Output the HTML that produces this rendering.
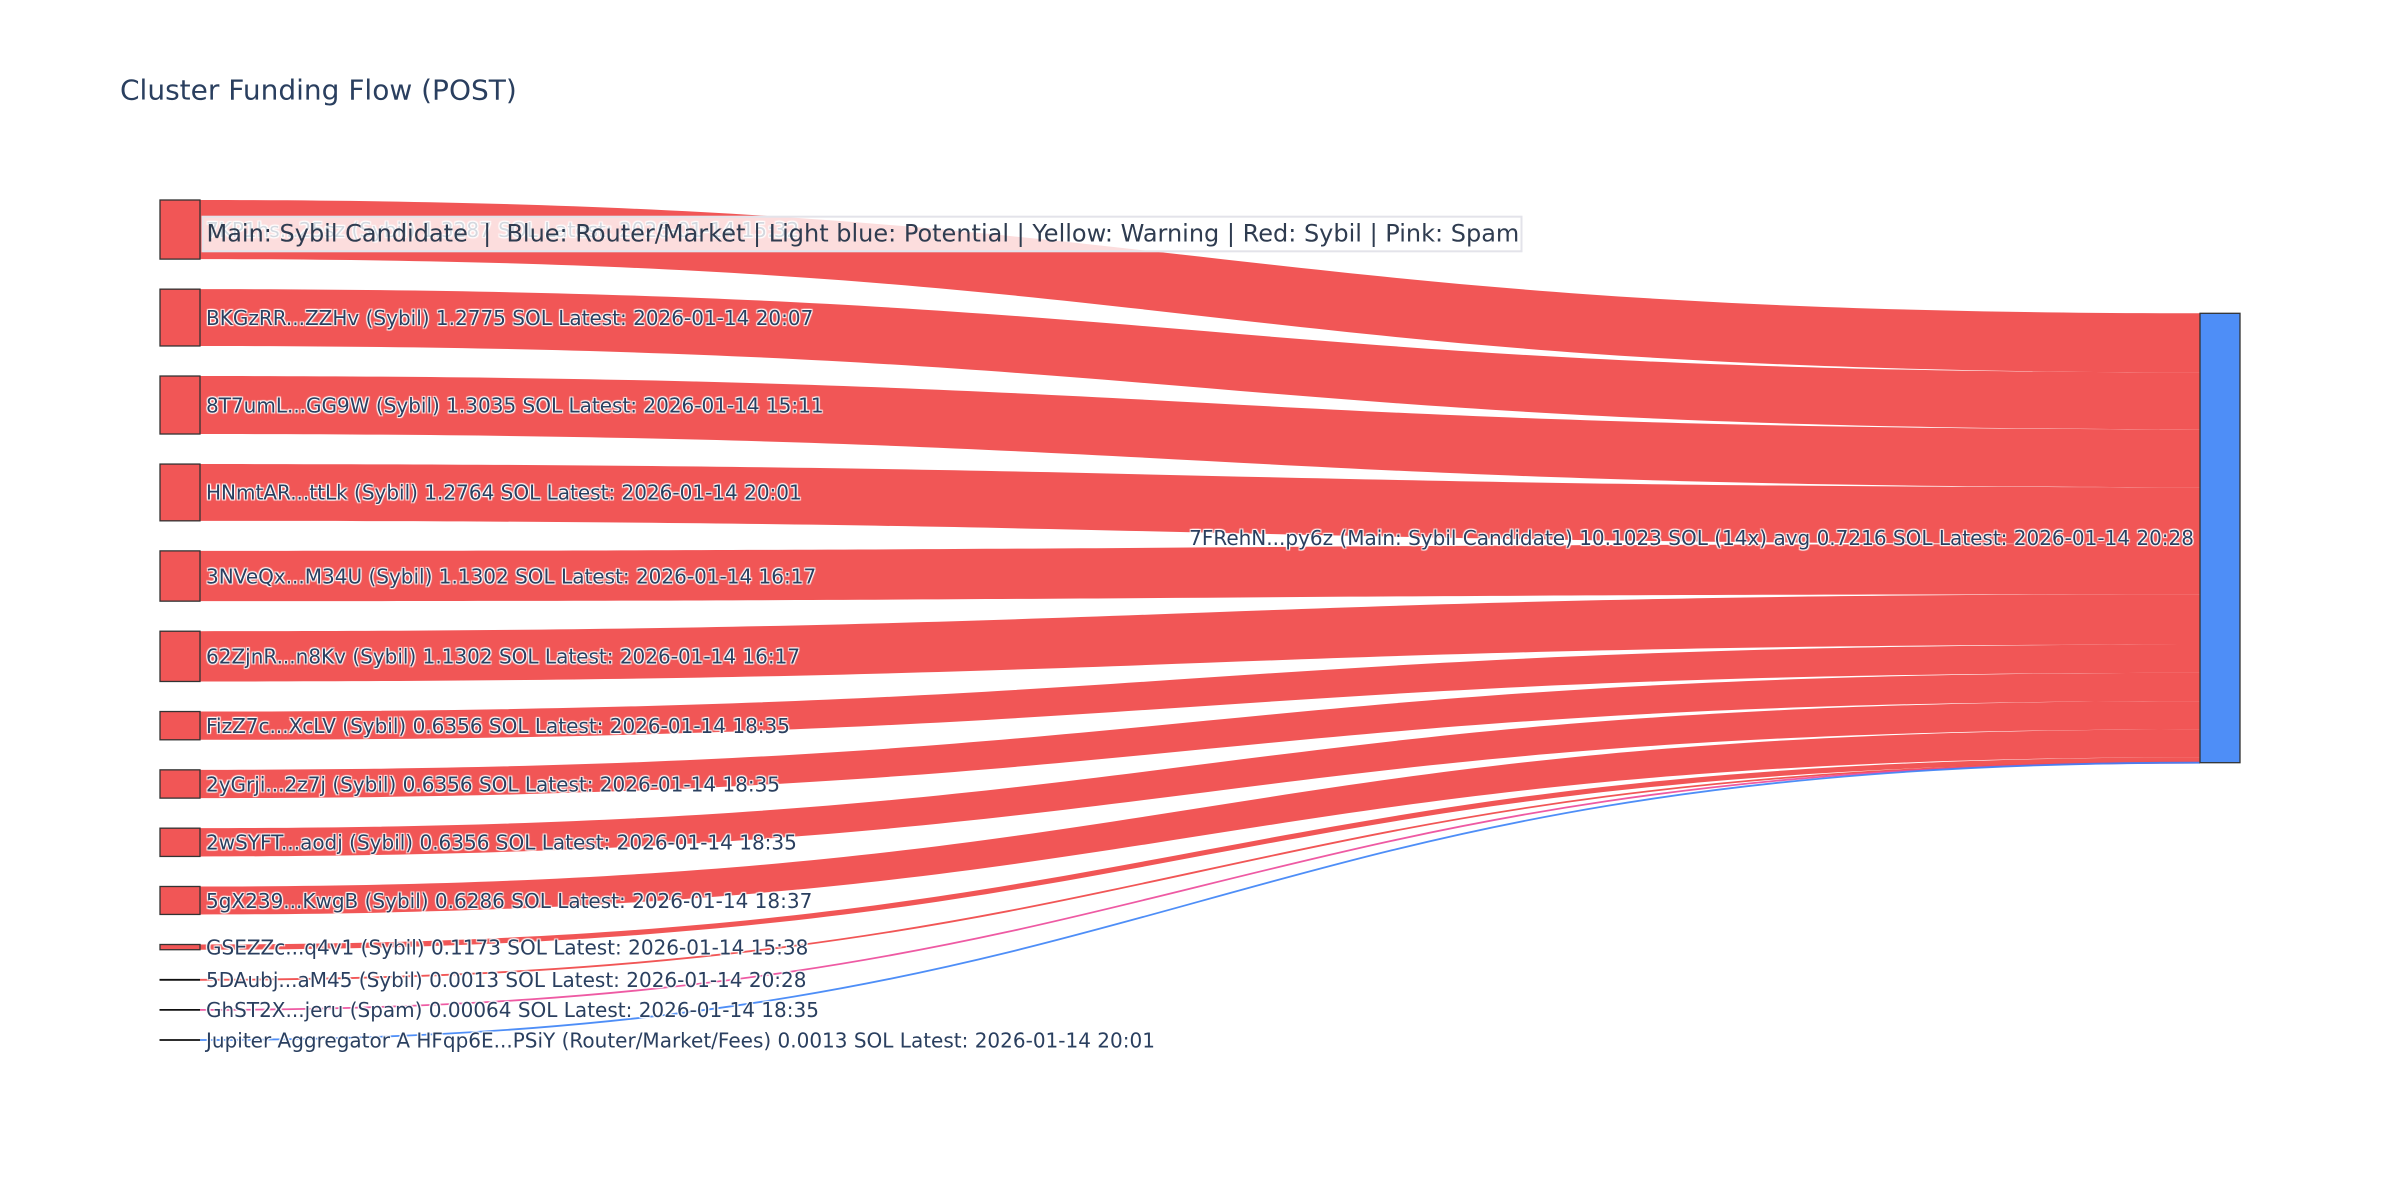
<!DOCTYPE html>
<html>
<head>
<meta charset="utf-8">
<style>
html,body{margin:0;padding:0;background:#fff;}
body{width:2400px;height:1200px;overflow:hidden;}
svg{display:block;}
.lbl{font-family:"DejaVu Sans","Liberation Sans",sans-serif;font-size:20px;fill:#2a3f5f;
 text-shadow:1px 1px 1px #fff,-1px -1px 1px #fff,1px -1px 1px #fff,-1px 1px 1px #fff;}
.title{font-family:"DejaVu Sans","Liberation Sans",sans-serif;font-size:28px;fill:#2a3f5f;}
.leg{font-family:"DejaVu Sans","Liberation Sans",sans-serif;font-size:24px;fill:#2f3c50;white-space:pre;}
</style>
</head>
<body>
<svg width="2400" height="1200" viewBox="0 0 2400 1200" xmlns="http://www.w3.org/2000/svg">
<rect x="0" y="0" width="2400" height="1200" fill="#fff"/>
<g fill="rgb(239,68,68)" fill-opacity="0.9">
<path d="M200,200 C1200,200 1200,313.3 2200,313.3 L2200,372.406 C1200,372.406 1200,259.106 200,259.106 Z"/>
<path d="M200,289.152 C1200,289.152 1200,372.406 2200,372.406 L2200,429.234 C1200,429.234 1200,345.98 200,345.98 Z"/>
<path d="M200,376.026 C1200,376.026 1200,429.234 2200,429.234 L2200,487.219 C1200,487.219 1200,434.011 200,434.011 Z"/>
<path d="M200,464.057 C1200,464.057 1200,487.219 2200,487.219 L2200,543.999 C1200,543.999 1200,520.837 200,520.837 Z"/>
<path d="M200,550.883 C1200,550.883 1200,543.999 2200,543.999 L2200,594.275 C1200,594.275 1200,601.159 200,601.159 Z"/>
<path d="M200,631.205 C1200,631.205 1200,594.275 2200,594.275 L2200,644.551 C1200,644.551 1200,681.481 200,681.481 Z"/>
<path d="M200,711.527 C1200,711.527 1200,644.551 2200,644.551 L2200,672.825 C1200,672.825 1200,739.801 200,739.801 Z"/>
<path d="M200,769.847 C1200,769.847 1200,672.825 2200,672.825 L2200,701.099 C1200,701.099 1200,798.121 200,798.121 Z"/>
<path d="M200,828.167 C1200,828.167 1200,701.099 2200,701.099 L2200,729.373 C1200,729.373 1200,856.441 200,856.441 Z"/>
<path d="M200,886.487 C1200,886.487 1200,729.373 2200,729.373 L2200,757.336 C1200,757.336 1200,914.45 200,914.45 Z"/>
<path d="M200,944.496 C1200,944.496 1200,757.336 2200,757.336 L2200,762.554 C1200,762.554 1200,949.714 200,949.714 Z"/>
</g>
<g fill="none" stroke-width="1.8">
<path d="M200,979.79 C1200,979.79 1200,762.58 2200,762.58" stroke="rgba(239,68,68,0.9)"/>
<path d="M200,1009.88 C1200,1009.88 1200,762.63 2200,762.63" stroke="rgba(236,72,153,0.9)"/>
<path d="M200,1039.97 C1200,1039.97 1200,762.67 2200,762.67" stroke="rgba(59,130,246,0.9)"/>
</g>
<g fill="rgb(239,68,68)" fill-opacity="0.9" stroke="#333" stroke-width="1.3">
<rect x="160" y="200" width="40" height="59.106"/>
<rect x="160" y="289.152" width="40" height="56.828"/>
<rect x="160" y="376.026" width="40" height="57.985"/>
<rect x="160" y="464.057" width="40" height="56.78"/>
<rect x="160" y="550.883" width="40" height="50.276"/>
<rect x="160" y="631.205" width="40" height="50.276"/>
<rect x="160" y="711.527" width="40" height="28.274"/>
<rect x="160" y="769.847" width="40" height="28.274"/>
<rect x="160" y="828.167" width="40" height="28.274"/>
<rect x="160" y="886.487" width="40" height="27.963"/>
<rect x="160" y="944.496" width="40" height="5.218"/>
</g>
<g stroke="#111" stroke-width="1.8">
<line x1="159.5" y1="979.8" x2="200" y2="979.8"/>
<line x1="159.5" y1="1009.9" x2="200" y2="1009.9"/>
<line x1="159.5" y1="1040" x2="200" y2="1040"/>
</g>
<rect x="2200" y="313.3" width="40" height="449.4" fill="rgb(59,130,246)" fill-opacity="0.9" stroke="#333" stroke-width="1.3"/>

<g class="lbl">
<text x="206" y="236.9">7KP1hs...25sz (Sybil) 1.3287 SOL Latest: 2026-01-14 15:32</text>
<text x="206" y="324.9">BKGzRR...ZZHv (Sybil) 1.2775 SOL Latest: 2026-01-14 20:07</text>
<text x="206" y="412.3">8T7umL...GG9W (Sybil) 1.3035 SOL Latest: 2026-01-14 15:11</text>
<text x="206" y="499.7">HNmtAR...ttLk (Sybil) 1.2764 SOL Latest: 2026-01-14 20:01</text>
<text x="206" y="583.3">3NVeQx...M34U (Sybil) 1.1302 SOL Latest: 2026-01-14 16:17</text>
<text x="206" y="663.6">62ZjnR...n8Kv (Sybil) 1.1302 SOL Latest: 2026-01-14 16:17</text>
<text x="206" y="733.0">FizZ7c...XcLV (Sybil) 0.6356 SOL Latest: 2026-01-14 18:35</text>
<text x="206" y="791.3">2yGrji...2z7j (Sybil) 0.6356 SOL Latest: 2026-01-14 18:35</text>
<text x="206" y="849.6">2wSYFT...aodj (Sybil) 0.6356 SOL Latest: 2026-01-14 18:35</text>
<text x="206" y="907.8">5gX239...KwgB (Sybil) 0.6286 SOL Latest: 2026-01-14 18:37</text>
<text x="206" y="954.4">GSEZZc...q4v1 (Sybil) 0.1173 SOL Latest: 2026-01-14 15:38</text>
<text x="206" y="987.1">5DAubj...aM45 (Sybil) 0.0013 SOL Latest: 2026-01-14 20:28</text>
<text x="206" y="1017.2">GhST2X...jeru (Spam) 0.00064 SOL Latest: 2026-01-14 18:35</text>
<text x="206" y="1047.3">Jupiter Aggregator A HFqp6E...PSiY (Router/Market/Fees) 0.0013 SOL Latest: 2026-01-14 20:01</text>
<text x="2194" y="545.2" text-anchor="end">7FRehN...py6z (Main: Sybil Candidate) 10.1023 SOL (14x) avg 0.7216 SOL Latest: 2026-01-14 20:28</text>
</g>

<rect x="202.5" y="216.7" width="1319" height="34.6" fill="rgba(255,255,255,0.8)" stroke="#e3e3ea" stroke-width="2"/>
<text class="leg" x="206.5" y="241.5" xml:space="preserve">Main: Sybil Candidate  |  Blue: Router/Market | Light blue: Potential | Yellow: Warning | Red: Sybil | Pink: Spam</text>

<text class="title" x="120" y="99.5">Cluster Funding Flow (POST)</text>
</svg>
</body>
</html>
